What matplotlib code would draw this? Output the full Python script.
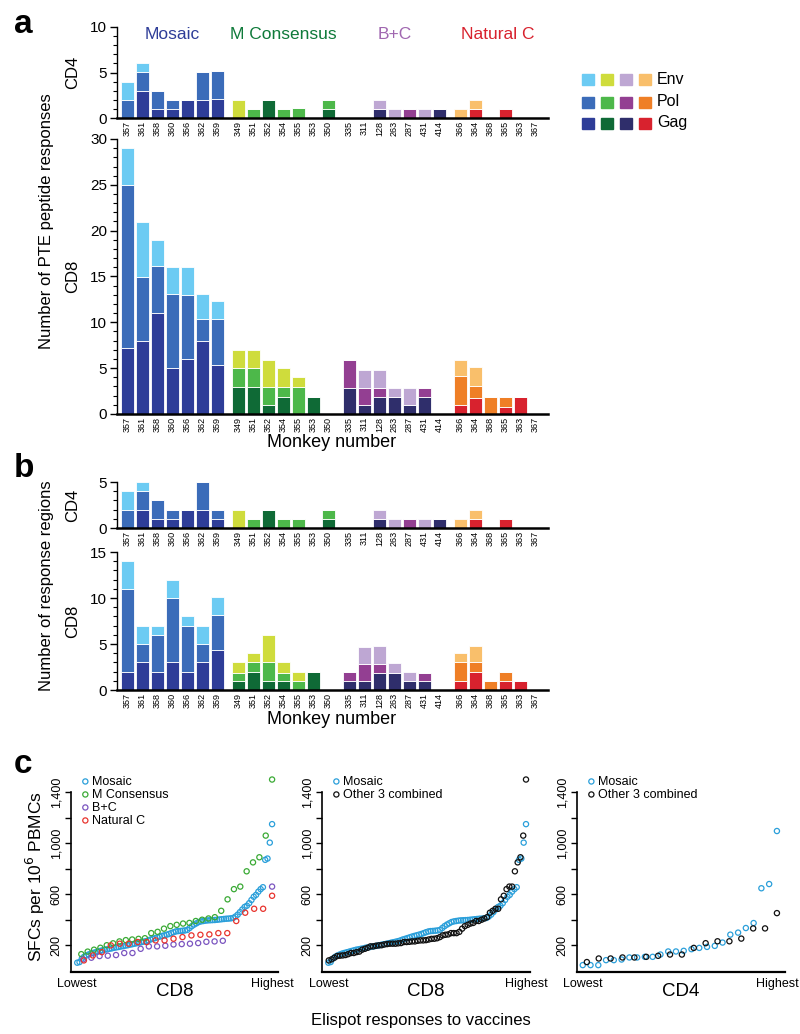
import numpy as np
import matplotlib
matplotlib.use("Agg")
import matplotlib.pyplot as plt
from matplotlib.ticker import MultipleLocator
from matplotlib.patches import Rectangle

plt.rcParams['font.family'] = ['Liberation Sans', 'DejaVu Sans']

# ---------------- data ----------------
groups = ['Mosaic', 'M Consensus', 'B+C', 'Natural C']
monkeys = [['357', '361', '358', '360', '356', '362', '359'],
           ['349', '351', '352', '354', '355', '353', '350'],
           ['335', '311', '128', '263', '287', '431', '414'],
           ['366', '364', '368', '365', '363', '367']]
proteins = ['Env', 'Pol', 'Gag']

# colours per group: (Env, Pol, Gag)
group_colors = {
    'Mosaic': ('#6ccbf3', '#3b6cb9', '#2e3d98'),
    'M Consensus': ('#cfdc3c', '#4db84a', '#0f6a36'),
    'B+C': ('#bea7d3', '#933f92', '#2f2e6b'),
    'Natural C': ('#f9bf6b', '#ef7f26', '#d8222e'),
}
header_colors = {'Mosaic': '#2e3d98', 'M Consensus': '#0f7a3a',
                 'B+C': '#a067b0', 'Natural C': '#d8222e'}

# panel a: number of PTE peptide responses
a_cd4_gag = [0, 3, 1, 1, 2, 2, 2.05, 0, 0, 2, 0, 0, 0, 1, 0, 0, 1, 0, 0, 0, 1, 0, 1, 0, 1, 0, 0]
a_cd4_pol = [2, 2.1, 2, 1, 0, 3.1, 3.1, 0, 1, 0, 1, 1.05, 0, 1, 0, 0, 0, 0, 1, 0, 0, 0, 0, 0, 0, 0, 0]
a_cd4_env = [2, 0.9, 0, 0, 0, 0, 0, 2, 0, 0, 0, 0, 0, 0, 0, 0, 1, 1, 0, 1, 0, 1, 1, 0, 0, 0, 0]

a_cd8_gag = [7.2, 8, 11, 5, 6, 8, 5.3, 2.9, 2.9, 1, 1.9, 0, 1.9, 0,
             2.85, 0.95, 1.8, 1.8, 0.95, 1.8, 0, 0.95, 1.75, 0, 0.8, 1.9, 0]
a_cd8_pol = [17.8, 7, 5.1, 8.1, 7, 2.4, 5.1, 2.1, 2.1, 1.9, 1, 2.95, 0, 0,
             3.05, 1.9, 1.05, 0, 0, 1.05, 0, 3.2, 1.25, 1.9, 1.1, 0, 0]
a_cd8_env = [4, 6, 2.9, 2.9, 3, 2.7, 1.9, 2, 2, 3, 2.1, 1.05, 0, 0,
             0, 2, 2, 1.05, 1.9, 0, 0, 1.75, 2.1, 0, 0, 0, 0]

# panel b: number of response regions
b_cd4_gag = [0, 2, 1, 1, 2, 2, 1, 0, 0, 2, 0, 0, 0, 1, 0, 0, 1, 0, 0, 0, 1, 0, 1, 0, 1, 0, 0]
b_cd4_pol = [2, 2, 2, 1, 0, 3, 1, 0, 1, 0, 1, 1, 0, 1, 0, 0, 0, 0, 1, 0, 0, 0, 0, 0, 0, 0, 0]
b_cd4_env = [2, 1, 0, 0, 0, 0, 0, 2, 0, 0, 0, 0, 0, 0, 0, 0, 1, 1, 0, 1, 0, 1, 1, 0, 0, 0, 0]

b_cd8_gag = [2, 3, 2, 3, 2, 3, 4.4, 1, 1.95, 1, 1, 0, 2, 0,
             1, 1, 1.85, 1.85, 1, 1, 0, 1, 2, 0, 1, 1, 0]
b_cd8_pol = [9, 2, 4, 7, 5, 2, 3.75, 0.85, 1.05, 2, 0.9, 1, 0, 0,
             1, 1.8, 1, 0, 0, 0.9, 0, 2, 1, 1, 1, 0, 0]
b_cd8_env = [3, 2, 1, 2, 1, 2, 1.95, 1.15, 1, 3, 1.1, 1, 0, 0,
             0, 1.9, 1.9, 1.05, 1, 0, 0, 1, 1.8, 0, 0, 0, 0]

# panel c: ELISpot SFCs per 10^6 PBMCs, sorted
mosaic_cd8 = [63, 68, 95, 110, 120, 128, 135, 140, 145, 150, 155, 160, 165, 168, 172,
              175, 180, 183, 186, 190, 193, 197, 200, 205, 208, 212, 216, 220, 224, 228,
              232, 238, 245, 250, 256, 262, 268, 273, 278, 283, 288, 295, 302, 308, 311,
              312, 314, 316, 320, 335, 350, 362, 372, 382, 387, 390, 393, 395, 396, 397,
              398, 400, 402, 404, 406, 408, 409, 411, 414, 425, 440, 460, 480, 500, 510,
              530, 555, 580, 595, 620, 640, 655, 870, 880, 1005, 1150]
mcons_cd8 = [130, 150, 165, 180, 200, 215, 230, 240, 245, 250, 255, 295, 305, 330, 350,
             360, 370, 375, 390, 400, 410, 420, 470, 560, 640, 660, 780, 850, 890, 1060, 1500]
bc_cd8 = [89, 102, 115, 118, 123, 139, 139, 172, 191, 191, 196, 206, 209, 212, 217,
          227, 230, 235, 660]
bc_cd8_rank = [1, 2, 3, 4, 5, 6, 7, 8, 9, 10, 11, 12, 13, 14, 15, 16, 17, 18, 24]
natc_cd8 = [81, 120, 146, 199, 212, 212, 225, 225, 238, 238, 251, 264, 277, 282, 285,
            295, 295, 390, 455, 486, 486, 588]
mosaic_cd4 = [44, 44, 44, 83, 83, 88, 104, 104, 109, 109, 127, 151, 151, 156, 169, 179,
              187, 195, 221, 283, 299, 335, 374, 647, 680, 1096]
other_cd4 = [68, 96, 96, 104, 104, 109, 117, 127, 127, 179, 216, 231, 231, 252, 332, 332, 452]

c_colors = {'Mosaic': '#2a9fda', 'M Consensus': '#3aaa35', 'B+C': '#7b55c0',
            'Natural C': '#e8342e', 'Other 3 combined': '#111111'}

# ---------------- figure ----------------
W, H = 800, 1034
fig = plt.figure(figsize=(W / 100, H / 100), dpi=100)


def ax_px(x0, y0, x1, y1):
    return fig.add_axes([x0 / W, 1 - y1 / H, (x1 - x0) / W, (y1 - y0) / H])


def ftext(x, y, s, **kw):
    fig.text(x / W, 1 - y / H, s, **kw)


group_gap = 0.4
xpos, xlab, cols_env, cols_pol, cols_gag = [], [], [], [], []
start = 0.0
group_centers = []
for g, ms in zip(groups, monkeys):
    pos = [start + i for i in range(len(ms))]
    group_centers.append(np.mean(pos))
    xpos += pos
    xlab += ms
    ce, cp, cg = group_colors[g]
    cols_env += [ce] * len(ms)
    cols_pol += [cp] * len(ms)
    cols_gag += [cg] * len(ms)
    start += 7 + group_gap
xpos = np.array(xpos)


def bar_panel(ax, gag, pol, env, ymax, ylabel):
    gag, pol, env = np.array(gag), np.array(pol), np.array(env)
    kw = dict(width=0.87, edgecolor='white', linewidth=0.6, zorder=2)
    ax.bar(xpos, gag, color=cols_gag, **kw)
    ax.bar(xpos, pol, bottom=gag, color=cols_pol, **kw)
    ax.bar(xpos, env, bottom=gag + pol, color=cols_env, **kw)
    ax.set_xlim(-0.7, 28.03)
    ax.set_ylim(0, ymax)
    for s in ['top', 'right']:
        ax.spines[s].set_visible(False)
    ax.spines['left'].set_linewidth(1.0)
    ax.spines['bottom'].set_linewidth(1.8)
    ax.spines['bottom'].set_zorder(5)
    ax.set_yticks(np.arange(0, ymax + 1, 5))
    ax.yaxis.set_minor_locator(MultipleLocator(1))
    ax.tick_params(axis='y', which='major', length=5, width=1, labelsize=11, pad=2)
    ax.tick_params(axis='y', which='minor', length=3, width=0.8)
    ax.set_xticks(xpos)
    ax.set_xticklabels(xlab, rotation=90, fontsize=6.5)
    ax.tick_params(axis='x', length=0, pad=2)
    ax.set_ylabel(ylabel, fontsize=12, labelpad=6)


a4 = ax_px(117, 27, 548, 118)
a8 = ax_px(117, 139, 548, 414)
b4 = ax_px(117, 482, 548, 528)
b8 = ax_px(117, 552, 548, 690)
bar_panel(a4, a_cd4_gag, a_cd4_pol, a_cd4_env, 10, 'CD4')
bar_panel(a8, a_cd8_gag, a_cd8_pol, a_cd8_env, 30, 'CD8')
bar_panel(b4, b_cd4_gag, b_cd4_pol, b_cd4_env, 5, 'CD4')
bar_panel(b8, b_cd8_gag, b_cd8_pol, b_cd8_env, 15, 'CD8')
for ax in (a4, a8, b4, b8):
    ax.yaxis.set_label_coords(-0.085, 0.5)

# group headers
for g, c in zip(groups, group_centers):
    a4.text(c, 9.2, g, color=header_colors[g], fontsize=12.5, ha='center', va='center')

# legend squares
leg_x = [582, 601, 620, 639]
leg_y = [79, 102, 123]
for j, g in enumerate(groups):
    for k in range(3):
        fig.patches.append(Rectangle(((leg_x[j]) / W, 1 - (leg_y[k] + 5.5) / H), 12 / W, 11 / H,
                                     transform=fig.transFigure, color=group_colors[g][k],
                                     edgecolor='none'))
for k, p in enumerate(proteins):
    ftext(657, leg_y[k], p, fontsize=11.5, va='center', ha='left')

# axis titles and panel letters
ftext(47, 221, 'Number of PTE peptide responses', rotation=90, ha='center', va='center', fontsize=12)
ftext(47, 586, 'Number of response regions', rotation=90, ha='center', va='center', fontsize=12)
ftext(332, 447, 'Monkey number', ha='center', va='baseline', fontsize=13)
ftext(332, 724, 'Monkey number', ha='center', va='baseline', fontsize=13)
ftext(14, 33, 'a', fontsize=24, fontweight='bold', va='baseline')
ftext(14, 477, 'b', fontsize=24, fontweight='bold', va='baseline')
ftext(14, 773, 'c', fontsize=24, fontweight='bold', va='baseline')


def ranks(vals):
    n = len(vals)
    return (np.arange(n) + 1) / n


def c_panel(ax, series, xlabel, xlim):
    for name, xs, vals in series:
        ax.scatter(xs, vals, s=14, facecolors='none', edgecolors=c_colors[name],
                   linewidths=0.9, label=name, zorder=3, clip_on=False)
    ax.set_ylim(-10, 1559)
    ax.set_xlim(*xlim)
    for s in ['top', 'right']:
        ax.spines[s].set_visible(False)
    ax.spines['left'].set_bounds(-10, 1400)
    ax.spines['left'].set_linewidth(1.2)
    ax.spines['bottom'].set_linewidth(1.6)
    ax.set_yticks(np.arange(200, 1401, 200))
    ax.set_yticklabels(['200', '', '600', '', '1,000', '', '1,400'], rotation=90, va='center')
    ax.tick_params(axis='y', length=4, width=1, labelsize=9, pad=2)
    xs0 = series[0][1]
    ax.set_xticks([xs0[0], xs0[-1]])
    ax.set_xticklabels(['Lowest', 'Highest'])
    ax.tick_params(axis='x', length=0, labelsize=9, pad=4)
    ax.legend(loc='upper left', bbox_to_anchor=(0.03, 1.0), frameon=False, fontsize=9,
              handletextpad=0.15, labelspacing=0.08, borderpad=0, handlelength=0.7,
              borderaxespad=0.3, markerscale=1.0)
    return ax


c1 = ax_px(71, 772, 278, 972)
c2 = ax_px(322, 772, 530, 972)
c3 = ax_px(577, 772, 785, 972)

bc_x = np.array(bc_cd8_rank) / max(bc_cd8_rank)
c_panel(c1, [('Mosaic', ranks(mosaic_cd8), mosaic_cd8),
             ('M Consensus', ranks(mcons_cd8), mcons_cd8),
             ('B+C', bc_x, bc_cd8),
             ('Natural C', ranks(natc_cd8), natc_cd8)], 'CD8', (-0.02, 1.03))
other_cd8 = sorted(mcons_cd8 + bc_cd8 + natc_cd8)
c_panel(c2, [('Mosaic', ranks(mosaic_cd8), mosaic_cd8),
             ('Other 3 combined', ranks(other_cd8), other_cd8)], 'CD8', (-0.02, 1.02))
c_panel(c3, [('Mosaic', ranks(mosaic_cd4), mosaic_cd4),
             ('Other 3 combined', ranks(other_cd4), other_cd4)], 'CD4', (0.01, 1.04))

ftext(175, 991, 'CD8', ha='center', va='center', fontsize=13.5)
ftext(426, 991, 'CD8', ha='center', va='center', fontsize=13.5)
ftext(681, 991, 'CD4', ha='center', va='center', fontsize=13.5)
ftext(421, 1020, 'Elispot responses to vaccines', ha='center', va='center', fontsize=12)
ftext(35, 876, 'SFCs per 10$^{6}$ PBMCs', rotation=90, ha='center', va='center', fontsize=12.5)

fig.savefig('out.png', dpi=100)
